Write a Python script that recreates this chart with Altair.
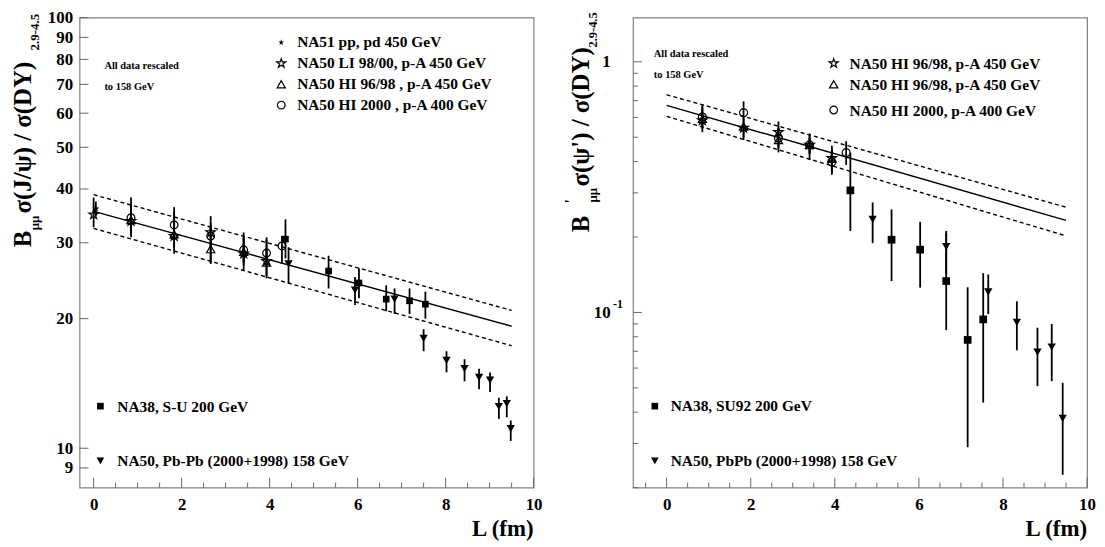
import altair as alt
import pandas as pd

FONT = "Liberation Serif"
STAR = ("M0,-1L0.2245,-0.309L0.951,-0.309L0.363,0.118L0.588,0.809L0,0.382"
        "L-0.588,0.809L-0.363,0.118L-0.951,-0.309L-0.2245,-0.309Z")

# ================= Left panel : J/psi / DY =================
jp_na51_L = [0.05]
jp_na51_v = [36.0]
jp_na51_lo = [34.6]
jp_na51_hi = [37.4]

jp_li_L = [0.0, 0.85, 1.83, 2.66, 3.41, 3.93]
jp_li_v = [34.9, 33.7, 31.1, 31.7, 28.3, 27.2]
jp_li_lo = [32.6, 30.9, 28.3, 26.8, 25.9, 24.8]
jp_li_hi = [38.2, 38.2, 36.3, 34.6, 31.7, 30.9]

jp_hi98_L = [0.85, 1.83, 2.66, 3.41, 3.93]
jp_hi98_v = [33.9, 31.4, 29.0, 28.6, 27.0]
jp_hi98_lo = [31.5, 29.2, 26.9, 26.6, 25.1]
jp_hi98_hi = [36.4, 33.7, 31.2, 30.8, 29.0]

jp_hi00_L = [0.85, 1.83, 2.66, 3.41, 3.93, 4.28]
jp_hi00_v = [34.3, 33.0, 31.1, 28.9, 28.4, 29.5]
jp_hi00_lo = [32.0, 30.8, 29.0, 27.0, 26.5, 26.8]
jp_hi00_hi = [36.8, 35.4, 33.4, 31.0, 30.5, 31.1]

jp_su_L = [4.36, 5.34, 6.03, 6.65, 7.18, 7.54]
jp_su_v = [30.6, 25.8, 24.2, 22.2, 22.0, 21.6]
jp_su_lo = [27.6, 23.5, 22.3, 20.8, 20.5, 20.0]
jp_su_hi = [34.0, 28.0, 26.2, 23.9, 23.5, 23.1]

jp_pb_L = [4.43, 5.94, 6.84, 7.50, 8.02, 8.43, 8.76, 9.01, 9.21, 9.39, 9.48]
jp_pb_v = [26.8, 23.3, 22.2, 18.0, 16.0, 15.3, 14.6, 14.4, 12.5, 12.7, 11.1]
jp_pb_lo = [24.1, 21.5, 20.5, 16.8, 15.0, 14.3, 13.7, 13.5, 11.7, 11.8, 10.4]
jp_pb_hi = [29.3, 25.0, 23.5, 18.9, 16.8, 16.1, 15.3, 15.0, 13.1, 13.2, 11.6]

jp_fit_L = [0.0, 9.5]
jp_fit_mid = [35.5, 19.2]
jp_fit_up = [38.8, 20.9]
jp_fit_dn = [32.4, 17.3]

jp_xlabels = [0, 2, 4, 6, 8, 10]
jp_ylabels = [9, 10, 20, 30, 40, 50, 60, 70, 80, 90, 100]

# ================= Right panel : psi' / DY =================
ps_star_L = [0.85, 1.83, 2.66, 3.40, 3.93]
ps_star_v = [0.584, 0.545, 0.524, 0.466, 0.4125]
ps_star_lo = [0.524, 0.487, 0.435, 0.406, 0.354]
ps_star_hi = [0.673, 0.594, 0.578, 0.518, 0.463]

ps_tri_L = [0.85, 1.83, 2.66, 3.40, 3.93]
ps_tri_v = [0.592, 0.552, 0.487, 0.466, 0.41]
ps_tri_lo = [0.54, 0.50, 0.45, 0.43, 0.37]
ps_tri_hi = [0.645, 0.60, 0.53, 0.505, 0.45]

ps_hi00_L = [0.85, 1.83, 2.66, 3.40, 3.93, 4.27]
ps_hi00_v = [0.602, 0.626, 0.496, 0.466, 0.398, 0.434]
ps_hi00_lo = [0.55, 0.594, 0.46, 0.43, 0.36, 0.388]
ps_hi00_hi = [0.66, 0.695, 0.54, 0.50, 0.44, 0.482]

ps_su_L = [4.37, 5.35, 6.03, 6.65, 7.16, 7.53]
ps_su_v = [0.307, 0.195, 0.178, 0.1334, 0.0777, 0.0938]
ps_su_lo = [0.2115, 0.1334, 0.1256, 0.085, 0.029, 0.0437]
ps_su_hi = [0.434, 0.2576, 0.230, 0.207, 0.126, 0.1435]

ps_pb_L = [4.90, 6.65, 7.65, 8.33, 8.82, 9.16, 9.42]
ps_pb_v = [0.235, 0.183, 0.1207, 0.0913, 0.0695, 0.0727, 0.0378]
ps_pb_lo = [0.189, 0.1426, 0.0985, 0.0706, 0.0508, 0.0532, 0.0225]
ps_pb_hi = [0.2747, 0.2115, 0.1417, 0.1108, 0.0869, 0.0899, 0.0524]

ps_fit_L = [0.0, 9.5]
ps_fit_mid = [0.67, 0.233]
ps_fit_up = [0.739, 0.263]
ps_fit_dn = [0.606, 0.202]

ps_xlabels = [0, 2, 4, 6, 8, 10]
ps_ylabels = [0.1, 1]

W, H = 457, 473
ONE = pd.DataFrame({"d": [0]})


def frame(L, v, lo, hi):
    return pd.DataFrame({"L": L, "v": v, "lo": lo, "hi": hi})


def txt(s, x, y, size, angle=0, align="left"):
    return alt.Chart(ONE).mark_text(
        text=s, font=FONT, fontWeight="bold", fontSize=size, angle=angle,
        align=align, baseline="alphabetic", color="black"
    ).encode(x=alt.value(x), y=alt.value(y))


def sym(shape, x, y, size, filled):
    return alt.Chart(ONE).mark_point(
        shape=shape, size=size, filled=filled, color="black", opacity=1,
        strokeWidth=1.2
    ).encode(x=alt.value(x), y=alt.value(y))


def panel(series, fit, xdom, ydom, xlabels, ylabels, yexpr, ypad,
          xminor, xmajor, yminor, ymajor, notes):
    xs = alt.Scale(domain=xdom, nice=False, zero=False)
    ys = alt.Scale(type="log", domain=ydom, nice=False)
    xa = alt.Axis(values=xlabels, title=None, ticks=False, domain=False,
                  grid=False, labelFlush=False, labelOverlap=False,
                  labelPadding=9)
    ya = alt.Axis(values=ylabels, title=None, ticks=False, domain=False,
                  grid=False, labelOverlap=False, labelExpr=yexpr,
                  labelPadding=ypad)
    X = lambda f: alt.X(f, scale=xs, axis=xa)
    Y = lambda f: alt.Y(f, scale=ys, axis=ya)

    layers = []
    allbars = pd.concat([s[0] for s in series])
    layers.append(alt.Chart(allbars).mark_rule(color="black", strokeWidth=1.8)
                  .encode(x=X("L:Q"), y=Y("lo:Q"), y2="hi:Q"))
    fL, fmid, fup, fdn = fit
    for vals, dash in [(fmid, None), (fup, [4, 3]), (fdn, [4, 3])]:
        kw = dict(color="black", strokeWidth=1.4)
        if dash:
            kw["strokeDash"] = dash
        layers.append(alt.Chart(pd.DataFrame({"L": fL, "v": vals}))
                      .mark_line(**kw).encode(x=X("L:Q"), y=Y("v:Q")))
    for df, shape, size, filled in series:
        layers.append(alt.Chart(df).mark_point(
            shape=shape, size=size, filled=filled, color="black", opacity=1,
            strokeWidth=1.2).encode(x=X("L:Q"), y=Y("v:Q")))
    # inside ticks
    layers.append(alt.Chart(pd.DataFrame({"L": xmajor})).mark_rule(
        color="#666", strokeWidth=1).encode(x=X("L:Q"), y=alt.value(H),
                                           y2=alt.value(H - 10)))
    layers.append(alt.Chart(pd.DataFrame({"L": xminor})).mark_rule(
        color="#666", strokeWidth=1).encode(x=X("L:Q"), y=alt.value(H),
                                           y2=alt.value(H - 5)))
    layers.append(alt.Chart(pd.DataFrame({"v": ymajor})).mark_rule(
        color="#666", strokeWidth=1).encode(y=Y("v:Q"), x=alt.value(0),
                                           x2=alt.value(9)))
    if yminor:
        layers.append(alt.Chart(pd.DataFrame({"v": yminor})).mark_rule(
            color="#666", strokeWidth=1).encode(y=Y("v:Q"), x=alt.value(0),
                                               x2=alt.value(5)))
    layers += notes
    return alt.layer(*layers).properties(width=W, height=H)


# ---------- left panel ----------
left_series = [
    (frame(jp_na51_L, jp_na51_v, jp_na51_lo, jp_na51_hi), STAR, 55, True),
    (frame(jp_li_L, jp_li_v, jp_li_lo, jp_li_hi), STAR, 100, False),
    (frame(jp_hi98_L, jp_hi98_v, jp_hi98_lo, jp_hi98_hi), "triangle-up", 70, False),
    (frame(jp_hi00_L, jp_hi00_v, jp_hi00_lo, jp_hi00_hi), "circle", 60, False),
    (frame(jp_su_L, jp_su_v, jp_su_lo, jp_su_hi), "square", 45, True),
    (frame(jp_pb_L, jp_pb_v, jp_pb_lo, jp_pb_hi), "triangle-down", 70, True),
]
left_notes = [
    txt("B", -49, 231, 25, 270),
    txt("μμ", -41, 214, 13, 270),
    txt("σ(J/ψ) / σ(DY)", -49, 197, 25, 270),
    txt("2.9-4.5", -41, 33, 13, 270),
    txt("All data rescaled", 25, 52, 10.5),
    txt("to 158 GeV", 25, 73, 10.5),
    sym(STAR, 203, 25, 40, True), txt("NA51 pp, pd 450 GeV", 219, 30, 15.5),
    sym(STAR, 203, 46, 90, False), txt("NA50 LI 98/00, p-A 450 GeV", 219, 51, 15.5),
    sym("triangle-up", 203, 67, 70, False), txt("NA50 HI 96/98 , p-A 450 GeV", 219, 72, 15.5),
    sym("circle", 203, 88, 60, False), txt("NA50 HI 2000 , p-A 400 GeV", 219, 93, 15.5),
    sym("square", 21, 391, 45, True), txt("NA38, S-U 200 GeV", 38, 397, 15.5),
    sym("triangle-down", 21, 446, 60, True), txt("NA50, Pb-Pb (2000+1998) 158 GeV", 38, 451, 15.5),
    txt("L (fm)", W, 522, 23, 0, "right"),
]
left = panel(left_series, (jp_fit_L, jp_fit_mid, jp_fit_up, jp_fit_dn),
             [-0.32, 10], [8.1, 100], jp_xlabels, jp_ylabels,
             "format(datum.value, 'd')", 7,
             [0.5, 1, 1.5, 2.5, 3, 3.5, 4.5, 5, 5.5, 6.5, 7, 7.5, 8.5, 9, 9.5],
             [0, 2, 4, 6, 8, 10], [], jp_ylabels, left_notes)

# ---------- right panel ----------
right_series = [
    (frame(ps_star_L, ps_star_v, ps_star_lo, ps_star_hi), STAR, 100, False),
    (frame(ps_tri_L, ps_tri_v, ps_tri_lo, ps_tri_hi), "triangle-up", 70, False),
    (frame(ps_hi00_L, ps_hi00_v, ps_hi00_lo, ps_hi00_hi), "circle", 65, False),
    (frame(ps_su_L, ps_su_v, ps_su_lo, ps_su_hi), "square", 60, True),
    (frame(ps_pb_L, ps_pb_v, ps_pb_lo, ps_pb_hi), "triangle-down", 70, True),
]
right_notes = [
    txt("B", -44, 216, 25, 270),
    txt("'", -57, 187, 16, 270),
    txt("μμ", -36, 186, 13, 270),
    txt("σ(ψ') / σ(DY)", -44, 170, 25, 270),
    txt("2.9-4.5", -36, 30, 12.5, 270),
    txt("-1", -20, 292, 12),
    txt("All data rescaled", 21, 40, 10.5),
    txt("to 158 GeV", 21, 61, 10.5),
    sym(STAR, 202, 46, 90, False), txt("NA50 HI 96/98, p-A 450 GeV", 218, 52, 15.5),
    sym("triangle-up", 202, 67, 70, False), txt("NA50 HI 96/98, p-A 450 GeV", 218, 73, 15.5),
    sym("circle", 202, 93, 60, False), txt("NA50 HI 2000, p-A 400 GeV", 218, 99, 15.5),
    sym("square", 22, 391, 45, True), txt("NA38, SU92 200 GeV", 38, 396, 15.5),
    sym("triangle-down", 22, 446, 60, True), txt("NA50, PbPb (2000+1998) 158 GeV", 38, 451, 15.5),
    txt("L (fm)", W, 522, 23, 0, "right"),
]
ps_minor_y = [0.02, 0.03, 0.04, 0.05, 0.06, 0.07, 0.08, 0.09,
              0.2, 0.3, 0.4, 0.5, 0.6, 0.7, 0.8, 0.9]
right = panel(right_series, (ps_fit_L, ps_fit_mid, ps_fit_up, ps_fit_dn),
              [-0.8, 10], [0.02, 1.5], ps_xlabels, ps_ylabels,
              "datum.value == 1 ? '1' : '10'", 23,
              [-0.5, 0.5, 1, 1.5, 2.5, 3, 3.5, 4.5, 5, 5.5, 6.5, 7, 7.5, 8.5, 9, 9.5],
              [0, 2, 4, 6, 8, 10], ps_minor_y, [0.1, 1], right_notes)

chart = alt.hconcat(left, right, spacing=100, bounds="flush").properties(
    padding={"left": 2, "top": -2, "right": 0, "bottom": 0},
).configure_view(stroke="#808080", strokeWidth=1.2).configure_axis(
    labelFont=FONT, labelFontWeight="bold", labelFontSize=17, labelColor="black"
)

chart.save("out.html", embed_options={"renderer": "svg", "actions": False})
